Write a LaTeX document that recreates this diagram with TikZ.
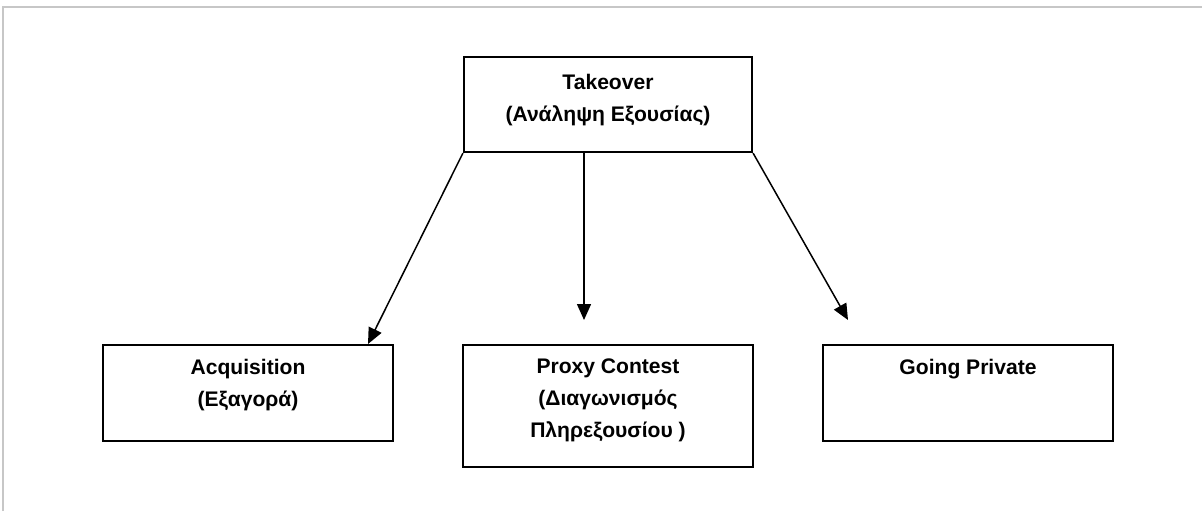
\documentclass[tikz,border=0pt]{standalone}
\usepackage{fontspec}
\setmainfont{Liberation Sans}
\usetikzlibrary{arrows.meta,positioning}
\tikzset{
  box/.style={draw, line width=0.045cm, minimum width=5.8cm, minimum height=1.92cm, inner sep=0pt},
  boxtext/.style={anchor=north, align=center, inner sep=0pt, font=\fontsize{12}{18.1}\selectfont\bfseries},
  conn/.style={line width=0.03cm, -{Triangle[length=0.32cm, width=0.28cm]}},
  frameline/.style={line width=0.04cm, color=black!22}
}
\begin{document}
\begin{tikzpicture}[x=0.02cm, y=-0.02cm]
    \useasboundingbox (0,0) rectangle (1202,511);

    % Drawing page frame
    \draw [frameline] (3,511) -- (3,7) -- (1202,7);%

    % Drawing box takeover
    \node [box, minimum width=5.76cm, minimum height=1.9cm] (takeover) at (608,104.5) {};%
    \path (takeover.north) ++(0,18) node [boxtext] (takeover-t) {Takeover\\(Ανάληψη Εξουσίας)};%

    % Drawing box acquisition
    \node [box] (acq) at (248,393) {};%
    \path (acq.north) ++(0,15) node [boxtext] (acq-t) {Acquisition\\(Εξαγορά)};%

    % Drawing box proxy contest
    \node [box, minimum height=2.44cm] (proxy) at (608,406) {};%
    \path (proxy.north) ++(0,15) node [boxtext] (proxy-t) {Proxy Contest\\(Διαγωνισμός\\Πληρεξουσίου )};%

    % Drawing box going private
    \node [box] (priv) at (968,393) {};%
    \path (priv.north) ++(0,15) node [boxtext] (priv-t) {Going Private};%

    % Marking arrow ends
    \coordinate (mid-out) at (584,152);%
    \coordinate (acq-in) at (368,344);%
    \coordinate (proxy-in) at (584,320);%
    \coordinate (priv-in) at (848,320);%

    % Drawing arrows
    \draw [conn] (takeover.south west) -- (acq-in);%
    \draw [conn] (mid-out) -- (proxy-in);%
    \draw [conn] (takeover.south east) -- (priv-in);%
\end{tikzpicture}
\end{document}
